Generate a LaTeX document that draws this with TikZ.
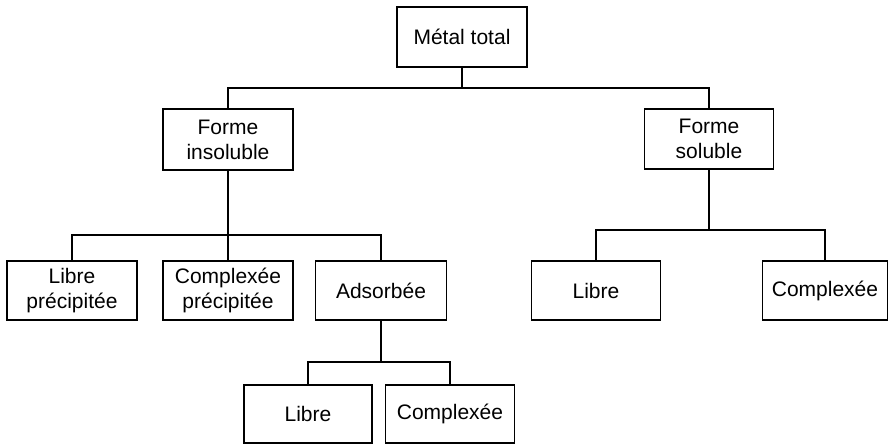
\documentclass[tikz,border=0pt]{standalone}
\usepackage{fontspec}
\setmainfont{Liberation Sans}
\begin{document}
\begin{tikzpicture}[x=1pt,y=-1pt,
  box/.style={draw=black,line width=1.6pt,rectangle,inner sep=0pt,align=center,
    font=\fontsize{21}{25}\selectfont},
  link/.style={draw=black,line width=1.6pt}]
\useasboundingbox (0,0) rectangle (889,446);
\node[box,minimum width=130pt,minimum height=60pt] (top) at (462,37) {Métal total};
\node[box,minimum width=130pt,minimum height=61pt] (fi) at (228,139.5) {Forme\\insoluble};
\node[box,minimum width=129pt,minimum height=60pt] (fs) at (709,139) {Forme\\soluble};
\node[box,minimum width=130pt,minimum height=59pt] (lp) at (72,290.5) {Libre\\précipitée};
\node[box,minimum width=130pt,minimum height=59pt] (cp) at (228,290.5) {Complexée\\précipitée};
\node[box,minimum width=131pt,minimum height=59pt] (ad) at (381,290.5) {Adsorbée};
\node[box,minimum width=128pt,minimum height=58pt] (lb) at (308,414) {Libre};
\node[box,minimum width=129pt,minimum height=58pt] (cb) at (450,414) {Complexée};
\node[box,minimum width=129pt,minimum height=59pt] (lr) at (596,290.5) {Libre};
\node[box,minimum width=125pt,minimum height=59pt] (cr) at (825,290.5) {Complexée};
% buses
\coordinate (b1) at (462,88);
\coordinate (b2) at (228,235);
\coordinate (b3) at (709,230);
\coordinate (b4) at (381,362);
\draw[link] (top.south) -- (b1);
\draw[link] (b1) -| (fi.north);
\draw[link] (b1) -| (fs.north);
\draw[link] (fi.south) -- (b2);
\draw[link] (b2) -| (lp.north);
\draw[link] (b2) -- (cp.north);
\draw[link] (b2) -| (ad.north);
\draw[link] (fs.south) -- (b3);
\draw[link] (b3) -| (lr.north);
\draw[link] (b3) -| (cr.north);
\draw[link] (ad.south) -- (b4);
\draw[link] (b4) -| (lb.north);
\draw[link] (b4) -| (cb.north);
\end{tikzpicture}
\end{document}
